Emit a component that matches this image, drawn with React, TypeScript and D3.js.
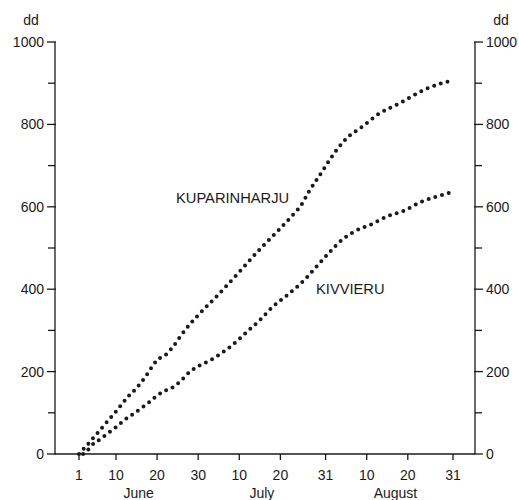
import React from "react";
import * as d3 from "d3";

// Day index: 1 = June 1, 92 = August 31
const kuparinharjuDays = [1, 3, 5, 8, 10, 13, 15, 17, 19, 20, 22, 24, 26, 28, 30, 35, 40, 45, 50, 53, 55, 57, 60, 62, 64, 66, 70, 74, 79, 85, 89, 92];
const kuparinharjuValues = [0, 22, 45, 80, 103, 140, 160, 185, 215, 228, 240, 262, 290, 315, 337, 388, 442, 497, 548, 580, 603, 638, 683, 714, 742, 765, 795, 826, 851, 884, 899, 907];

const kivvieruDays = [2, 3, 4, 6, 8, 10, 12, 14, 16, 18, 20, 22, 24, 26, 28, 30, 33, 38, 42, 45, 48, 52, 56, 59, 62, 65, 68, 72, 76, 80, 84, 88, 92];
const kivvieruValues = [0, 8, 20, 35, 50, 65, 82, 96, 110, 125, 142, 154, 163, 180, 200, 213, 228, 262, 298, 325, 356, 388, 424, 457, 490, 520, 540, 557, 577, 590, 611, 625, 636];

const yTicksMajor = [0, 200, 400, 600, 800, 1000];
const yTicksMinor = [100, 300, 500, 700, 900];
const xTickDays = [1, 10, 20, 30, 40, 50, 61, 71, 81, 92];
const xTickLabels = ["1", "10", "20", "30", "10", "20", "31", "10", "20", "31"];
const monthNames = ["June", "July", "August"];
const monthCenters = [15.5, 45.5, 78];
const seriesNames = ["KUPARINHARJU", "KIVVIERU"];

const W = 519;
const H = 500;
const FONT = "'Liberation Sans', Arial, Helvetica, sans-serif";
const INK = "#1a1a1a";

export default function App() {
  const x = d3.scaleLinear().domain([1, 92]).range([79, 453]);
  const y = d3.scaleLinear().domain([0, 1000]).range([454, 42]);
  const leftX = 55;
  const rightX = 475;

  const line = d3
    .line<[number, number]>()
    .x((d) => x(d[0]))
    .y((d) => y(d[1]))
    .curve(d3.curveMonotoneX);

  const upper = line(kuparinharjuDays.map((d, i) => [d, kuparinharjuValues[i]] as [number, number])) || "";
  const lower = line(kivvieruDays.map((d, i) => [d, kivvieruValues[i]] as [number, number])) || "";

  return (
    <svg
      width={W}
      height={H}
      style={{ position: "fixed", left: 0, top: 0, background: "#fff" }}
      fontFamily={FONT}
    >
      <rect width={W} height={H} fill="#fff" />
      {/* axes */}
      <g stroke={INK} strokeWidth={1.3} fill="none">
        <line x1={leftX} x2={leftX} y1={y(1000)} y2={y(0)} />
        <line x1={rightX} x2={rightX} y1={y(1000)} y2={y(0)} />
        <line x1={leftX} x2={rightX} y1={y(0)} y2={y(0)} />
        {yTicksMajor.map((t) => (
          <g key={"M" + t}>
            <line x1={leftX - 8} x2={leftX + 1} y1={y(t)} y2={y(t)} />
            <line x1={rightX - 1} x2={rightX + 8} y1={y(t)} y2={y(t)} />
          </g>
        ))}
        {yTicksMinor.map((t) => (
          <g key={"m" + t}>
            <line x1={leftX - 7} x2={leftX} y1={y(t)} y2={y(t)} />
            <line x1={rightX} x2={rightX + 7} y1={y(t)} y2={y(t)} />
          </g>
        ))}
        {xTickDays.map((d) => (
          <line key={"x" + d} x1={x(d)} x2={x(d)} y1={y(0)} y2={y(0) + 6} />
        ))}
      </g>
      {/* labels */}
      <g fill={INK} fontSize={14}>
        {yTicksMajor.map((t) => (
          <text key={"l" + t} x={leftX - 11} y={y(t) + 5} textAnchor="end">
            {t}
          </text>
        ))}
        {yTicksMajor.map((t) => (
          <text key={"r" + t} x={rightX + 11} y={y(t) + 5} textAnchor="start">
            {t}
          </text>
        ))}
        <text x={31} y={25} textAnchor="middle">dd</text>
        <text x={501} y={25} textAnchor="middle">dd</text>
        {xTickDays.map((d, i) => (
          <text key={"xl" + d} x={x(d)} y={480} textAnchor="middle">
            {xTickLabels[i]}
          </text>
        ))}
        {monthNames.map((m, i) => (
          <text key={m} x={x(monthCenters[i])} y={498} textAnchor="middle">
            {m}
          </text>
        ))}
        <text x={176} y={203} fontSize={14.7}>{seriesNames[0]}</text>
        <text x={316} y={294} fontSize={14.7}>{seriesNames[1]}</text>
      </g>
      {/* dotted series */}
      <g fill="none" stroke={INK} strokeWidth={4} strokeLinecap="round" strokeDasharray="0 7">
        <path d={upper} />
        <path d={lower} />
      </g>
    </svg>
  );
}
